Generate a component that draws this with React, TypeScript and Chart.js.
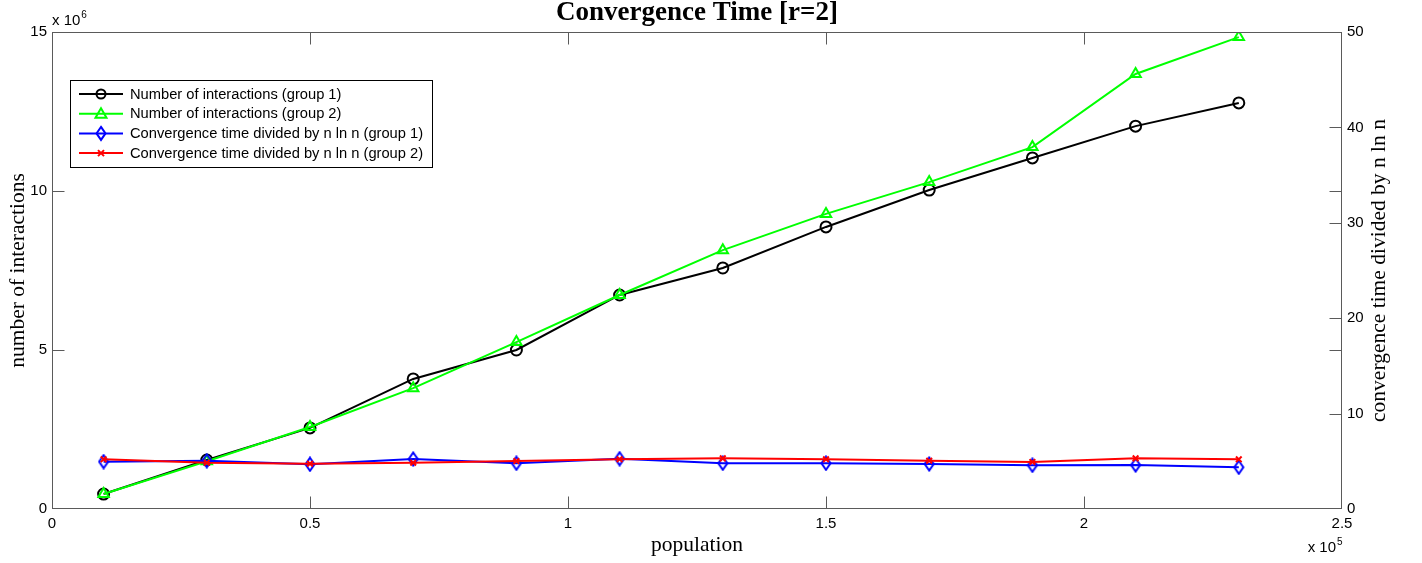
import React, { useEffect, useRef } from 'react';
import { Chart, registerables } from 'chart.js';

Chart.register(...registerables);

// ---- data ----
const population = [10000, 30000, 50000, 70000, 90000, 110000, 130000, 150000, 170000, 190000, 210000, 230000];
const interactionsGroup1 = [0.47e6, 1.54e6, 2.55e6, 4.09e6, 5.0e6, 6.73e6, 7.58e6, 8.87e6, 10.03e6, 11.04e6, 12.04e6, 12.77e6];
const interactionsGroup2 = [0.47e6, 1.5e6, 2.58e6, 3.8e6, 5.25e6, 6.73e6, 8.14e6, 9.28e6, 10.28e6, 11.38e6, 13.68e6, 14.84e6];
const normalizedGroup1 = [4.96, 5.06, 4.69, 5.24, 4.79, 5.27, 4.79, 4.79, 4.72, 4.58, 4.61, 4.37];
const normalizedGroup2 = [5.21, 4.85, 4.75, 4.85, 5.03, 5.21, 5.31, 5.21, 5.06, 4.93, 5.31, 5.21];

const seriesLabels = [
  'Number of interactions (group 1)',
  'Number of interactions (group 2)',
  'Convergence time divided by n ln n (group 1)',
  'Convergence time divided by n ln n (group 2)',
];
const titleText = 'Convergence Time [r=2]';
const xTitle = 'population';
const yLeftTitle = 'number of interactions';
const yRightTitle = 'convergence time divided by n ln n';

const BLACK = '#000000';
const GREEN = '#00ff00';
const BLUE = '#0000ff';
const RED = '#ff0000';
const AXIS = '#5a5a5a';
const SANS = '"Liberation Sans", Arial, sans-serif';
const SERIF = '"Liberation Serif", "Times New Roman", serif';

function makeDiamond(color: string) {
  const c = document.createElement('canvas');
  c.width = 12;
  c.height = 16;
  const g = c.getContext('2d')!;
  g.strokeStyle = color;
  g.lineWidth = 2;
  g.beginPath();
  g.moveTo(6, 1.5);
  g.lineTo(10.5, 8);
  g.lineTo(6, 14.5);
  g.lineTo(1.5, 8);
  g.closePath();
  g.stroke();
  return c;
}

function pts(ys: number[]) {
  return population.map((x, i) => ({ x, y: ys[i] }));
}

function drawMarker(ctx: CanvasRenderingContext2D, kind: string, x: number, y: number, color: string) {
  ctx.save();
  ctx.strokeStyle = color;
  ctx.lineWidth = 2;
  ctx.beginPath();
  if (kind === 'circle') {
    ctx.arc(x, y, 4.5, 0, Math.PI * 2);
  } else if (kind === 'triangle') {
    ctx.moveTo(x, y - 5.5);
    ctx.lineTo(x + 5.5, y + 4);
    ctx.lineTo(x - 5.5, y + 4);
    ctx.closePath();
  } else if (kind === 'diamond') {
    ctx.moveTo(x, y - 6.5);
    ctx.lineTo(x + 4.5, y);
    ctx.lineTo(x, y + 6.5);
    ctx.lineTo(x - 4.5, y);
    ctx.closePath();
  } else {
    ctx.moveTo(x - 3, y - 3);
    ctx.lineTo(x + 3, y + 3);
    ctx.moveTo(x + 3, y - 3);
    ctx.lineTo(x - 3, y + 3);
  }
  ctx.stroke();
  ctx.restore();
}

const decorPlugin = {
  id: 'decor',
  afterDraw(chart: any) {
    const { ctx, chartArea: a, scales } = chart;
    const L = Math.round(a.left) + 0.5;
    const R = Math.round(a.right) - 0.5;
    const T = Math.round(a.top) + 0.5;
    const B = Math.round(a.bottom) - 0.5;
    ctx.save();
    ctx.strokeStyle = AXIS;
    ctx.lineWidth = 1;
    ctx.strokeRect(L, T, R - L, B - T);
    const TL = 12;
    ctx.beginPath();
    scales.x.ticks.forEach((t: any) => {
      const px = Math.round(scales.x.getPixelForValue(t.value)) + 0.5;
      if (px <= L + 1 || px >= R - 1) return;
      ctx.moveTo(px, B);
      ctx.lineTo(px, B - TL);
      ctx.moveTo(px, T);
      ctx.lineTo(px, T + TL);
    });
    scales.y.ticks.forEach((t: any) => {
      const py = Math.round(scales.y.getPixelForValue(t.value)) + 0.5;
      if (py <= T + 1 || py >= B - 1) return;
      ctx.moveTo(L, py);
      ctx.lineTo(L + TL, py);
      ctx.moveTo(R, py);
      ctx.lineTo(R - TL, py);
    });
    scales.y2.ticks.forEach((t: any) => {
      const py = Math.round(scales.y2.getPixelForValue(t.value)) + 0.5;
      if (py <= T + 1 || py >= B - 1) return;
      ctx.moveTo(R, py);
      ctx.lineTo(R - TL, py);
    });
    ctx.stroke();

    // title
    ctx.fillStyle = '#000';
    ctx.textAlign = 'center';
    ctx.textBaseline = 'alphabetic';
    ctx.font = `bold 27px ${SERIF}`;
    ctx.fillText(titleText, (a.left + a.right) / 2, 20);

    // axis titles
    ctx.font = `21.5px ${SERIF}`;
    ctx.fillText(xTitle, (a.left + a.right) / 2, 551);
    ctx.save();
    ctx.translate(24, (a.top + a.bottom) / 2);
    ctx.rotate(-Math.PI / 2);
    ctx.fillText(yLeftTitle, 0, 0);
    ctx.restore();
    ctx.save();
    ctx.translate(1385, (a.top + a.bottom) / 2);
    ctx.rotate(-Math.PI / 2);
    ctx.fillText(yRightTitle, 0, 0);
    ctx.restore();

    // multipliers
    ctx.textAlign = 'left';
    ctx.font = `15px ${SANS}`;
    ctx.fillText('x 10', a.left, 25);
    let w = ctx.measureText('x 10').width;
    ctx.font = `10px ${SANS}`;
    ctx.fillText('6', a.left + w + 1, 18);
    ctx.font = `15px ${SANS}`;
    w = ctx.measureText('x 10').width;
    const mx = a.right - w - 6;
    ctx.fillText('x 10', mx, 552);
    ctx.font = `10px ${SANS}`;
    ctx.fillText('5', mx + w + 1, 545);

    // legend
    const lx = 70, ly = 80, lw = 362, lh = 87;
    ctx.fillStyle = '#fff';
    ctx.fillRect(lx, ly, lw, lh);
    ctx.strokeStyle = '#000';
    ctx.lineWidth = 1;
    ctx.strokeRect(lx + 0.5, ly + 0.5, lw, lh);
    const colors = [BLACK, GREEN, BLUE, RED];
    const kinds = ['circle', 'triangle', 'diamond', 'x'];
    ctx.font = `14.7px ${SANS}`;
    ctx.textBaseline = 'middle';
    for (let i = 0; i < 4; i++) {
      const cy = 94 + i * 19.7;
      ctx.strokeStyle = colors[i];
      ctx.lineWidth = 2;
      ctx.beginPath();
      ctx.moveTo(79, cy);
      ctx.lineTo(123, cy);
      ctx.stroke();
      drawMarker(ctx, kinds[i], 101, cy, colors[i]);
      ctx.fillStyle = '#000';
      ctx.fillText(seriesLabels[i], 130, cy + 0.5);
    }
    ctx.restore();
  },
};

export default function App() {
  const ref = useRef<HTMLCanvasElement | null>(null);

  useEffect(() => {
    document.body.style.margin = '0';
    const canvas = ref.current!;
    const diamond = makeDiamond(BLUE);
    const tickFont = { family: SANS, size: 15 };
    const chart = new Chart(canvas, {
      type: 'line',
      data: {
        datasets: [
          {
            label: seriesLabels[0],
            data: pts(interactionsGroup1),
            yAxisID: 'y',
            borderColor: BLACK,
            borderWidth: 2,
            pointStyle: 'circle',
            pointRadius: 5.5,
            pointBorderWidth: 2,
            pointBorderColor: BLACK,
            pointBackgroundColor: 'rgba(0,0,0,0)',
            order: 3,
          },
          {
            label: seriesLabels[1],
            data: pts(interactionsGroup2),
            yAxisID: 'y',
            borderColor: GREEN,
            borderWidth: 2,
            pointStyle: 'triangle',
            pointRadius: 6,
            pointBorderWidth: 2,
            pointBorderColor: GREEN,
            pointBackgroundColor: 'rgba(0,0,0,0)',
            order: 2,
          },
          {
            label: seriesLabels[2],
            data: pts(normalizedGroup1),
            yAxisID: 'y2',
            borderColor: BLUE,
            borderWidth: 2,
            pointStyle: diamond as any,
            pointRadius: 6,
            pointBorderColor: BLUE,
            pointBackgroundColor: 'rgba(0,0,0,0)',
            order: 1,
          },
          {
            label: seriesLabels[3],
            data: pts(normalizedGroup2),
            yAxisID: 'y2',
            borderColor: RED,
            borderWidth: 2,
            pointStyle: 'crossRot',
            pointRadius: 4,
            pointBorderWidth: 2,
            pointBorderColor: RED,
            order: 0,
          },
        ],
      },
      options: {
        animation: false,
        responsive: false,
        devicePixelRatio: 1,
        layout: { padding: { top: 32, left: 0, right: 0, bottom: 0 } },
        plugins: {
          legend: { display: false },
          title: { display: false },
          tooltip: { enabled: false },
        },
        scales: {
          x: {
            type: 'linear',
            min: 0,
            max: 250000,
            grid: { display: false, drawTicks: false },
            border: { display: false },
            ticks: {
              stepSize: 50000,
              autoSkip: false,
              maxRotation: 0,
              padding: 6,
              color: '#000',
              font: tickFont,
              callback: (v: any) => String(Number(v) / 1e5),
            },
            afterFit: (s: any) => {
              s.height = 54;
            },
          },
          y: {
            type: 'linear',
            position: 'left',
            min: 0,
            max: 15e6,
            grid: { display: false, drawTicks: false },
            border: { display: false },
            ticks: {
              stepSize: 5e6,
              autoSkip: false,
              padding: 5,
              color: '#000',
              font: tickFont,
              callback: (v: any) => String(Number(v) / 1e6),
            },
            afterFit: (s: any) => {
              s.width = 52;
            },
          },
          y2: {
            type: 'linear',
            position: 'right',
            min: 0,
            max: 50,
            grid: { display: false, drawTicks: false },
            border: { display: false },
            ticks: {
              stepSize: 10,
              autoSkip: false,
              padding: 5,
              color: '#000',
              font: tickFont,
            },
            afterFit: (s: any) => {
              s.width = 80;
            },
          },
        },
      },
      plugins: [decorPlugin],
    });
    return () => chart.destroy();
  }, []);

  return (
    <div style={{ position: 'fixed', left: 0, top: 0, width: 1422, height: 563, background: '#fff' }}>
      <canvas ref={ref} width={1422} height={563} style={{ display: 'block' }} />
    </div>
  );
}
